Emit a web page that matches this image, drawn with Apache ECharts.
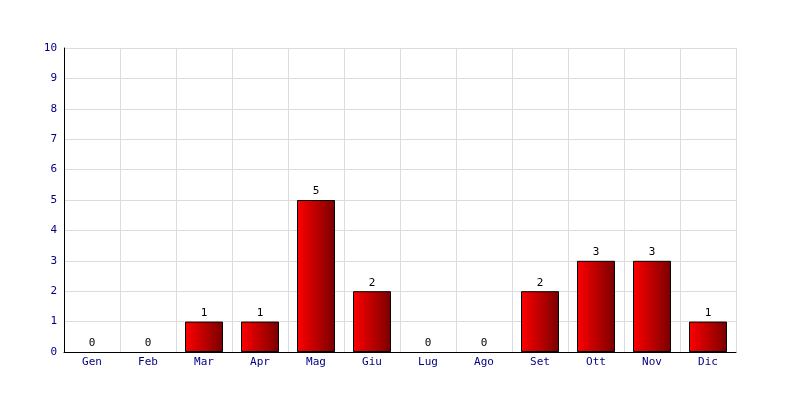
<!DOCTYPE html>
<html><head><meta charset="utf-8">
<script src="https://cdn.jsdelivr.net/npm/echarts@6/dist/echarts.min.js"></script>
<style>html,body{margin:0;padding:0;background:#fff}#c{width:800px;height:400px}</style>
</head><body><div id="c"></div>
<script>
var categories = ['Gen','Feb','Mar','Apr','Mag','Giu','Lug','Ago','Set','Ott','Nov','Dic'];
var values = [0,0,1,1,5,2,0,0,2,3,3,1];
var yMin = 0, yMax = 10, yStep = 1;

var chart = echarts.init(document.getElementById('c'), null, {renderer:'canvas'});
var font = 'DejaVu Sans Mono';
var barData = values.map(function(v){
  return v === 0 ? {value: v, itemStyle: {borderWidth: 0}} : v;
});
chart.setOption({
  animation: false,
  backgroundColor: '#fff',
  grid: {left: 64, right: 64, top: 48, bottom: 48},
  xAxis: {
    type: 'category', data: categories,
    axisLine: {lineStyle: {color: '#000', width: 1}},
    axisTick: {show: false},
    axisLabel: {color: '#000080', fontFamily: font, fontSize: 11, margin: 5},
    splitLine: {show: true, interval: 0, lineStyle: {color: '#dcdcdc'}}
  },
  yAxis: {
    type: 'value', min: yMin, max: yMax, interval: yStep,
    axisLine: {show: true, lineStyle: {color: '#000', width: 1}},
    axisTick: {show: false},
    axisLabel: {color: '#000080', fontFamily: font, fontSize: 11, margin: 7},
    splitLine: {lineStyle: {color: '#dcdcdc'}}
  },
  series: [{
    type: 'bar', data: barData, barWidth: 38, z: 1,
    itemStyle: {
      color: new echarts.graphic.LinearGradient(0,0,1,0,[{offset:0,color:'#ff0000'},{offset:1,color:'#7a0000'}]),
      borderColor: '#000', borderWidth: 1
    },
    label: {show: true, position: 'top', color: '#000', fontFamily: font, fontSize: 11, distance: 3}
  }]
});
</script></body></html>
